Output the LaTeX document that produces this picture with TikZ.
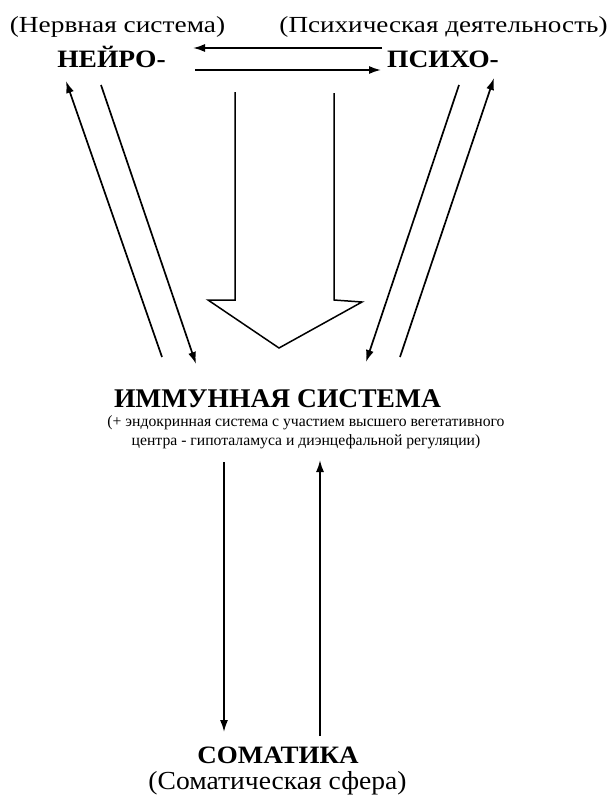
\documentclass[tikz,border=0pt]{standalone}
\usepackage{fontspec}
\usepackage{graphicx}
\setmainfont{Liberation Serif}
\usetikzlibrary{arrows.meta}
\begin{document}
\begin{tikzpicture}[x=1pt,y=-1pt,
  sub/.style={inner sep=0pt,anchor=base,font=\fontsize{23}{26}\selectfont},
  ttl/.style={inner sep=0pt,anchor=base,font=\bfseries\fontsize{25}{28}\selectfont},
  arr/.style={line width=1.7pt,-{Latex[length=12pt,width=8pt]}}]
\useasboundingbox (0,0) rectangle (611,800);
\node[sub] (nerv) at (117.5,33) {\scalebox{1.19}[1]{(Нервная система)}};
\node[sub] (psyd) at (443.5,33) {\scalebox{1.18}[1]{(Психическая деятельность)}};
\node[ttl] (neuro) at (111.5,67) {\scalebox{1.10}[1]{НЕЙРО-}};
\node[ttl] (psycho) at (443,67) {\scalebox{1.10}[1]{ПСИХО-}};
\node[ttl,font=\bfseries\fontsize{27}{30}\selectfont] (imm) at (277.5,407) {\scalebox{1.02}[1]{ИММУННАЯ СИСТЕМА}};
\node[inner sep=0pt,align=center,font=\fontsize{15.7}{19}\selectfont] (immsub) at (306,432)
  {(+ эндокринная система с участием высшего вегетативного\\центра - гипоталамуса и диэнцефальной регуляции)};
\node[ttl] (soma) at (278,763) {\scalebox{1.08}[1]{СОМАТИКА}};
\node[sub,font=\fontsize{26}{29}\selectfont] (somsub) at (277.5,789) {\scalebox{1.06}[1]{(Соматическая сфера)}};
% horizontal arrows
\coordinate (h1s) at (382,48); \coordinate (h1e) at (193,48);
\coordinate (h2s) at (195,70); \coordinate (h2e) at (381,70);
\draw[arr] (h1s) -- (h1e);
\draw[arr] (h2s) -- (h2e);
% left diagonals
\coordinate (l1s) at (162,357); \coordinate (l1e) at (66,81);
\coordinate (l2s) at (101,85); \coordinate (l2e) at (196,364);
\draw[arr] (l1s) -- (l1e);
\draw[arr] (l2s) -- (l2e);
% right diagonals
\coordinate (r1s) at (459,85); \coordinate (r1e) at (366,362);
\coordinate (r2s) at (400,357); \coordinate (r2e) at (494,78);
\draw[arr] (r1s) -- (r1e);
\draw[arr] (r2s) -- (r2e);
% big hollow arrow
\draw[line width=1.5pt,line join=miter] (235,92) -- (235,300) -- (208,300) -- (279,348) -- (362,302) -- (334,300) -- (334,93);
% vertical arrows
\coordinate (v1s) at (224,462); \coordinate (v1e) at (224,732);
\coordinate (v2s) at (320,736); \coordinate (v2e) at (320,460);
\draw[arr] (v1s) -- (v1e);
\draw[arr] (v2s) -- (v2e);
\end{tikzpicture}
\end{document}
